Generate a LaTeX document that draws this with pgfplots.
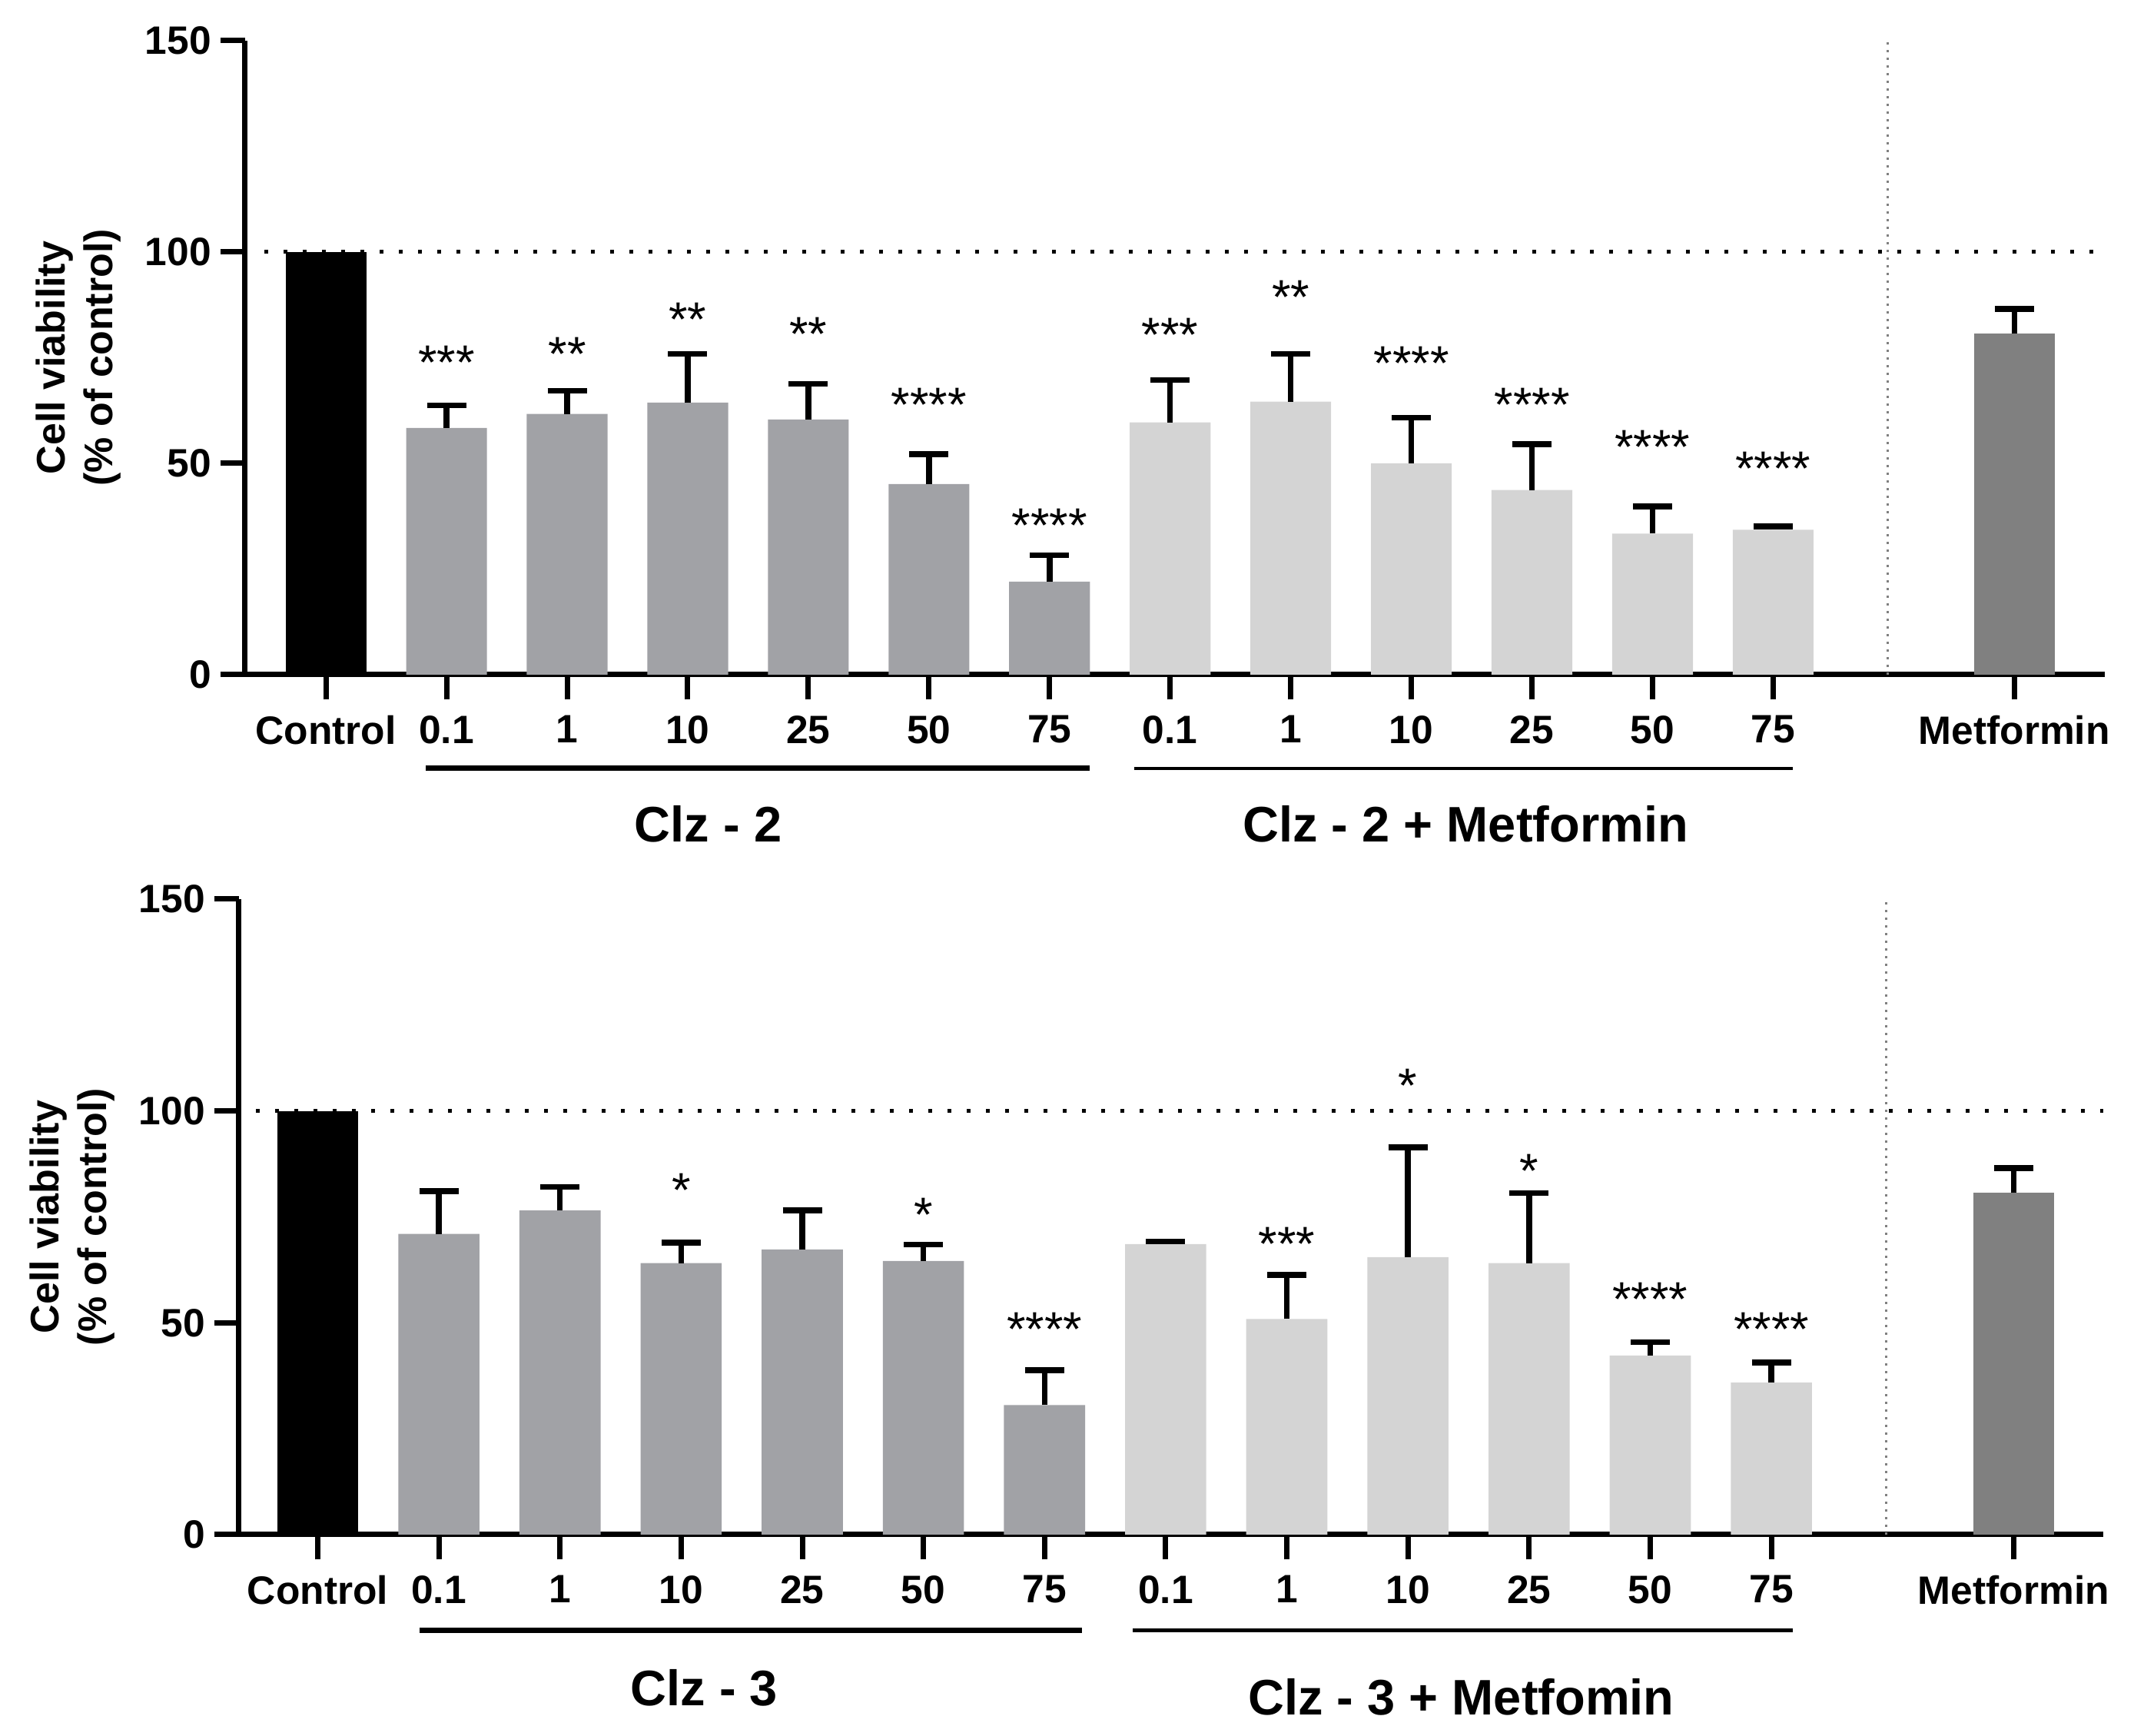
\documentclass[border=0pt]{standalone}
\usepackage{pgfplots}
\pgfplotsset{compat=1.18}
\usepackage{fontspec}
\setmainfont{Liberation Sans}
\definecolor{clz}{HTML}{A1A2A6}
\definecolor{combo}{HTML}{D4D4D4}
\definecolor{met}{HTML}{808080}
\pgfplotsset{
  panel/.style={
    scale only axis, width=484pt, height=165pt,
    xmin=-0.67, xmax=14.75, ymin=0, ymax=150,
    axis x line*=bottom, axis y line*=left,
    axis line style={line width=1.4pt,-},
    tick style={line width=1.4pt,black},
    major tick length=6.5pt, tick align=outside,
    ytick={0,50,100,150},
    xtick={0,1,2,3,4,5,6,7,8,9,10,11,12,14},
    xticklabels={Control,0.1,1,10,25,50,75,0.1,1,10,25,50,75,Metformin},
    /pgf/number format/assume math mode=true,
    tick label style={font=\bfseries\fontsize{10.3}{12}\selectfont},
    xticklabel style={yshift=-0.6pt},
    yticklabel style={xshift=1.2pt},
    ylabel={Cell viability\\(\% of control)},
    ylabel style={at={([xshift=-43.4pt]axis description cs:0,0.5)}, anchor=center, align=center, font=\bfseries\fontsize{10.4}{12.4}\selectfont},
    clip=false,
  },
  bars/.style={ybar, bar width=0.67, bar shift=0pt, draw=none, fill=#1,
    error bars/.cd, y dir=plus, y explicit,
    error bar style={draw=black, line width=1.5pt},
    error mark options={draw=black, line width=1.5pt, mark size=5.1pt, rotate=90}},
}
\tikzset{
  star/.style={font=\fontsize{12.6}{14}\selectfont, anchor=base, yshift=-6.2pt, inner sep=0pt},
  refline/.style={line width=1pt, dash pattern=on 1pt off 4pt, black},
  sepline/.style={line width=0.6pt, dash pattern=on 0.6pt off 1.4pt, gray},
}
\pgfplotstableread{
x y e
1 58.4 5.3
2 61.7 5.5
3 64.4 11.5
4 60.4 8.4
5 45.1 7.1
6 22.0 6.3
}\clztwo
\pgfplotstableread{
x y e
7 59.7 10.0
8 64.6 11.3
9 50.0 10.8
10 43.7 10.8
11 33.4 6.4
12 34.3 0.8
}\combotwo
\pgfplotstableread{
x y e
1 71.0 10.1
2 76.5 5.6
3 64.1 4.8
4 67.3 9.2
5 64.6 3.9
6 30.6 8.2
}\clzthree
\pgfplotstableread{
x y e
7 68.6 0.6
8 50.9 10.4
9 65.5 25.9
10 64.1 16.5
11 42.3 3.1
12 35.9 4.7
}\combothree
\begin{document}
\begin{tikzpicture}
\useasboundingbox (0,0) rectangle (555.4pt,451.8pt);
% ---------------- top panel
\begin{axis}[panel, at={(63.8pt,276.2pt)}, anchor=south west]
\addplot[ybar, bar width=0.67, bar shift=0pt, draw=none, fill=black] coordinates {(0,100)};
\addplot[bars=clz] table[x=x,y=y,y error=e] {\clztwo};
\addplot[bars=combo] table[x=x,y=y,y error=e] {\combotwo};
\addplot[bars=met] coordinates {(14,80.7) +- (0,5.8)};
\draw[refline] (axis cs:-0.51,100) -- (axis cs:14.75,100);
\draw[sepline] (axis cs:12.95,0) -- (axis cs:12.95,150);
\node[star] at (axis cs:1,75.5) {***};
\node[star] at (axis cs:2,77.5) {**};
\node[star] at (axis cs:3,85.7) {**};
\node[star] at (axis cs:4,82.2) {**};
\node[star] at (axis cs:5,65.5) {****};
\node[star] at (axis cs:6,37.0) {****};
\node[star] at (axis cs:7,82.1) {***};
\node[star] at (axis cs:8,91.0) {**};
\node[star] at (axis cs:9,75.4) {****};
\node[star] at (axis cs:10,65.5) {****};
\node[star] at (axis cs:11,55.5) {****};
\node[star] at (axis cs:12,50.4) {****};
\draw[line width=1.4pt] ([yshift=-24.4pt]axis cs:0.83,0) -- ([yshift=-24.4pt]axis cs:6.33,0);
\draw[line width=0.9pt] ([yshift=-24.4pt]axis cs:6.70,0) -- ([yshift=-24.4pt]axis cs:12.16,0);
\node[font=\bfseries\fontsize{13}{15}\selectfont] at ([yshift=-38.8pt]axis cs:3.17,0) {Clz - 2};
\node[font=\bfseries\fontsize{13}{15}\selectfont] at ([yshift=-38.8pt]axis cs:9.45,0) {Clz - 2 + Metformin};
\end{axis}
% ---------------- bottom panel
\begin{axis}[panel, at={(62.2pt,52.4pt)}, anchor=south west, width=485.2pt, height=165.4pt, xmin=-0.65, xmax=14.74]
\addplot[ybar, bar width=0.67, bar shift=0pt, draw=none, fill=black] coordinates {(0,100)};
\addplot[bars=clz] table[x=x,y=y,y error=e] {\clzthree};
\addplot[bars=combo] table[x=x,y=y,y error=e] {\combothree};
\addplot[bars=met] coordinates {(14,80.7) +- (0,5.8)};
\draw[refline] (axis cs:-0.51,100) -- (axis cs:14.74,100);
\draw[sepline] (axis cs:12.95,0) -- (axis cs:12.95,150);
\node[star] at (axis cs:3,83.0) {*};
\node[star] at (axis cs:5,77.2) {*};
\node[star] at (axis cs:6,50.2) {****};
\node[star] at (axis cs:8,70.3) {***};
\node[star] at (axis cs:9,107.7) {*};
\node[star] at (axis cs:10,87.6) {*};
\node[star] at (axis cs:11,57.2) {****};
\node[star] at (axis cs:12,50.2) {****};
\draw[line width=1.4pt] ([yshift=-24.9pt]axis cs:0.84,0) -- ([yshift=-24.9pt]axis cs:6.31,0);
\draw[line width=0.9pt] ([yshift=-24.9pt]axis cs:6.73,0) -- ([yshift=-24.9pt]axis cs:12.18,0);
\node[font=\bfseries\fontsize{13}{15}\selectfont] at ([yshift=-39.8pt]axis cs:3.19,0) {Clz - 3};
\node[font=\bfseries\fontsize{13}{15}\selectfont] at ([yshift=-42.2pt]axis cs:9.44,0) {Clz - 3 + Metfomin};
\end{axis}
\end{tikzpicture}
\end{document}
